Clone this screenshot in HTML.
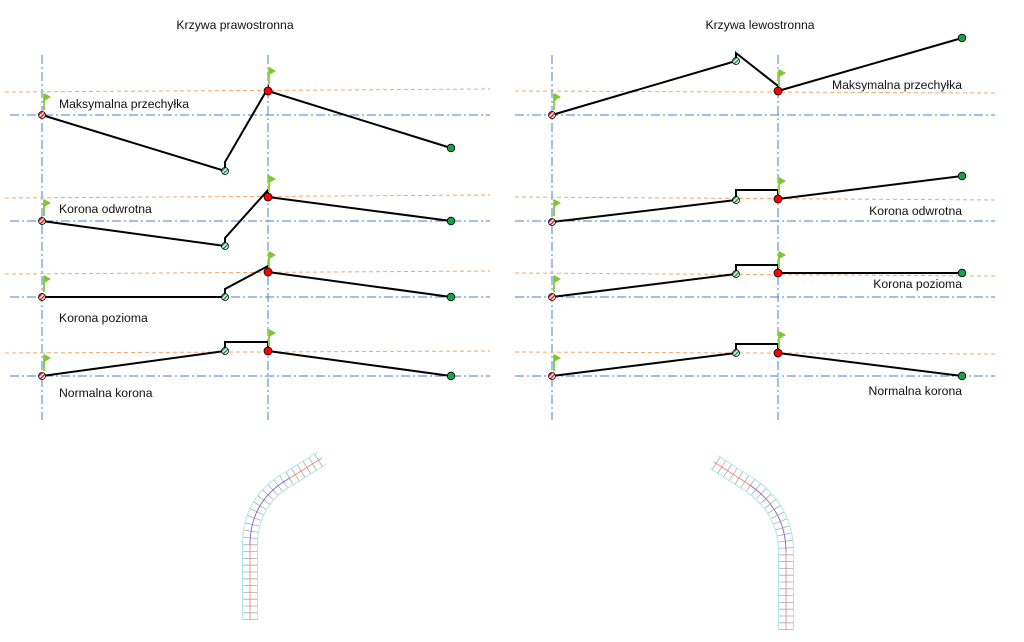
<!DOCTYPE html>
<html><head><meta charset="utf-8"><style>
html,body{margin:0;padding:0;background:#fff}
svg{display:block}
text{font-family:"Liberation Sans",sans-serif;font-size:12.2px;fill:#111}
.b{stroke:#4a7fc8;stroke-width:1;stroke-dasharray:9 3 2 3;fill:none}
.o{stroke:#f5a86a;stroke-width:1;stroke-dasharray:4 3;fill:none}
.k{stroke:#000;stroke-width:2;fill:none;stroke-linejoin:miter}
</style></head><body>
<svg width="1024" height="642" viewBox="0 0 1024 642">
<defs>
<pattern id="hr" width="3" height="3" patternUnits="userSpaceOnUse" patternTransform="rotate(45)"><rect width="3" height="3" fill="#fff"/><rect width="1.6" height="3" fill="#e02020"/></pattern>
<pattern id="hg" width="3" height="3" patternUnits="userSpaceOnUse" patternTransform="rotate(45)"><rect width="3" height="3" fill="#fff"/><rect width="1.6" height="3" fill="#1a9a4a"/></pattern>
<g id="sr"><circle r="3.5" fill="url(#hr)" stroke="#000" stroke-width="0.8"/></g>
<g id="sg"><circle r="3.5" fill="url(#hg)" stroke="#000" stroke-width="0.8"/></g>
<g id="rd"><circle r="4" fill="#f00" stroke="#000" stroke-width="0.8"/></g>
<g id="gd"><circle r="3.8" fill="#1aa04a" stroke="#000" stroke-width="0.8"/></g>
<g id="fl"><line x1="0" y1="0" x2="0" y2="-16" stroke="#8fd04a" stroke-width="2"/><polygon points="0,-17 7,-13 0,-9" fill="#7cc832"/></g>
</defs>

<text x="235" y="29" text-anchor="middle">Krzywa prawostronna</text>
<text x="760" y="29" text-anchor="middle">Krzywa lewostronna</text>

<line class="b" x1="42" y1="55" x2="42" y2="420"/>
<line class="b" x1="268" y1="55" x2="268" y2="420"/>
<line class="b" x1="552" y1="55" x2="552" y2="420"/>
<line class="b" x1="778" y1="55" x2="778" y2="420"/>

<line class="b" x1="10" y1="115" x2="490" y2="115"/>
<line class="b" x1="10" y1="221" x2="490" y2="221"/>
<line class="b" x1="10" y1="297" x2="490" y2="297"/>
<line class="b" x1="10" y1="376" x2="490" y2="376"/>
<line class="o" x1="5" y1="92" x2="490" y2="89"/>
<line class="o" x1="5" y1="198" x2="490" y2="195"/>
<line class="o" x1="5" y1="274" x2="490" y2="271"/>
<line class="o" x1="5" y1="353" x2="490" y2="351"/>
<line class="b" x1="515" y1="115" x2="995" y2="115"/>
<line class="b" x1="515" y1="221" x2="995" y2="221"/>
<line class="b" x1="515" y1="297" x2="995" y2="297"/>
<line class="b" x1="515" y1="376" x2="995" y2="376"/>
<line class="o" x1="515" y1="91" x2="995" y2="93"/>
<line class="o" x1="515" y1="197" x2="995" y2="200"/>
<line class="o" x1="515" y1="273" x2="995" y2="276"/>
<line class="o" x1="515" y1="352" x2="995" y2="354"/>

<polyline class="k" points="42,115 225,171 225,162 268,88 268,91 451,148"/>
<polyline class="k" points="42,221 225,246 225,238 268,190 268,197 451,221"/>
<polyline class="k" points="42,297 225,297 225,289 268,266 268,272 451,297"/>
<polyline class="k" points="42,376 225,351 225,342 268,342 268,351 451,376"/>
<polyline class="k" points="552,115 736,61 736,53 778,86 778,91 962,38"/>
<polyline class="k" points="552,222 736,200 736,190 778,190 778,199 962,176"/>
<polyline class="k" points="552,297 736,274 736,265 778,265 778,273 962,273"/>
<polyline class="k" points="552,376 736,353 736,344 778,344 778,353 962,376"/>

<use href="#fl" x="44" y="110"/><use href="#fl" x="269" y="84"/>
<use href="#fl" x="44" y="216"/><use href="#fl" x="269" y="192"/>
<use href="#fl" x="44" y="292"/><use href="#fl" x="269" y="268"/>
<use href="#fl" x="44" y="371"/><use href="#fl" x="269" y="346"/>
<use href="#fl" x="554" y="110"/><use href="#fl" x="779" y="86"/>
<use href="#fl" x="554" y="216"/><use href="#fl" x="779" y="194"/>
<use href="#fl" x="554" y="292"/><use href="#fl" x="779" y="268"/>
<use href="#fl" x="554" y="371"/><use href="#fl" x="779" y="348"/>

<use href="#sr" x="42" y="115"/><use href="#sg" x="225" y="171"/><use href="#rd" x="268" y="91"/><use href="#gd" x="451" y="148"/>
<use href="#sr" x="42" y="221"/><use href="#sg" x="225" y="246"/><use href="#rd" x="268" y="197"/><use href="#gd" x="451" y="221"/>
<use href="#sr" x="42" y="297"/><use href="#sg" x="225" y="297"/><use href="#rd" x="268" y="272"/><use href="#gd" x="451" y="297"/>
<use href="#sr" x="42" y="376"/><use href="#sg" x="225" y="351"/><use href="#rd" x="268" y="351"/><use href="#gd" x="451" y="376"/>
<use href="#sr" x="552" y="115"/><use href="#sg" x="736" y="61"/><use href="#rd" x="778" y="91"/><use href="#gd" x="962" y="38"/>
<use href="#sr" x="552" y="222"/><use href="#sg" x="736" y="200"/><use href="#rd" x="778" y="199"/><use href="#gd" x="962" y="176"/>
<use href="#sr" x="552" y="297"/><use href="#sg" x="736" y="274"/><use href="#rd" x="778" y="273"/><use href="#gd" x="962" y="273"/>
<use href="#sr" x="552" y="376"/><use href="#sg" x="736" y="353"/><use href="#rd" x="778" y="353"/><use href="#gd" x="962" y="376"/>

<text x="59" y="108">Maksymalna przechyłka</text>
<text x="59" y="213">Korona odwrotna</text>
<text x="59" y="322">Korona pozioma</text>
<text x="59" y="397">Normalna korona</text>
<text x="962" y="89" text-anchor="end">Maksymalna przechyłka</text>
<text x="962" y="215" text-anchor="end">Korona odwrotna</text>
<text x="962" y="288" text-anchor="end">Korona pozioma</text>
<text x="962" y="395" text-anchor="end">Normalna korona</text>

<g fill="none">
<path d="M250,620 L250,545 Q250,500 290,478 L322,458" stroke="#aee6f2" stroke-width="16"/>
<path d="M250,620 L250,545 Q250,500 290,478 L322,458" stroke="#fff" stroke-width="14"/>
<path d="M250,620 L250,545 Q250,500 290,478 L322,458" stroke="#888" stroke-width="14" stroke-dasharray="0.8 6" opacity="0.7"/>
<path d="M250,620 L250,545 Q250,500 290,478 L322,458" stroke="#f08080" stroke-width="0.8"/>
<path d="M250,545 Q250,500 290,478" stroke="#7070e0" stroke-width="0.8"/>
</g>
<g fill="none">
<path d="M786,630 L786,552 Q786,510 750,485 L714,462" stroke="#aee6f2" stroke-width="16"/>
<path d="M786,630 L786,552 Q786,510 750,485 L714,462" stroke="#fff" stroke-width="14"/>
<path d="M786,630 L786,552 Q786,510 750,485 L714,462" stroke="#888" stroke-width="14" stroke-dasharray="0.8 6" opacity="0.7"/>
<path d="M786,630 L786,552 Q786,510 750,485 L714,462" stroke="#f08080" stroke-width="0.8"/>
<path d="M786,552 Q786,510 750,485" stroke="#7070e0" stroke-width="0.8"/>
</g>
</svg>
</body></html>
